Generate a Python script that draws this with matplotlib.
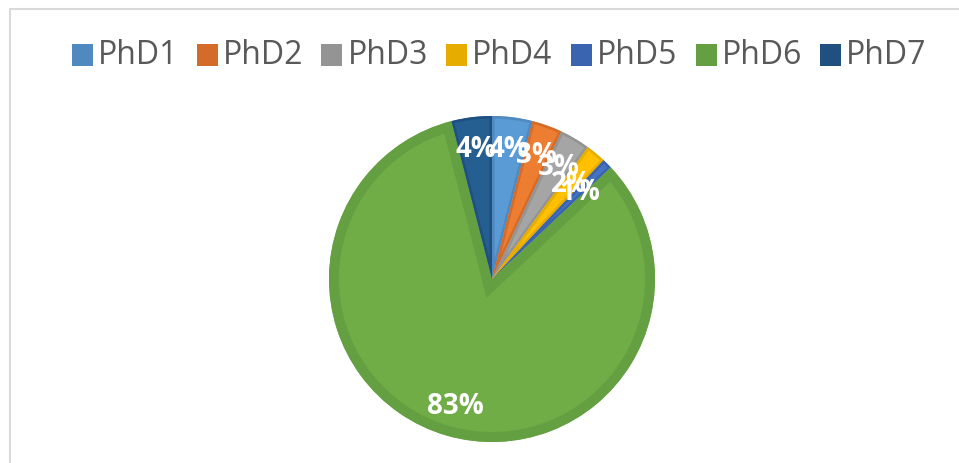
import matplotlib
matplotlib.use('Agg')
import numpy as np
import matplotlib.pyplot as plt
from matplotlib.patches import Wedge, Rectangle

names = ['PhD1', 'PhD2', 'PhD3', 'PhD4', 'PhD5', 'PhD6', 'PhD7']
shares = [4, 3, 3, 2, 1, 83, 4]
colors = ['#5b9bd5', '#ed7d31', '#a5a5a5', '#ffc000', '#4472c4', '#70ad47', '#255e91']
edge_colors = ['#4f89c0', '#d56b28', '#949494', '#e6ac00', '#3a64b0', '#64a042', '#1f5080']
label_dist = [0.81, 0.81, 0.80, 0.76, 0.76, 0.81, 0.81]

W, H = 959, 464
fig = plt.figure(figsize=(W / 100, H / 100), dpi=100)
ax = fig.add_axes([0, 0, 1, 1])
ax.axis('off')

cx, cy, r = 492, H - 280, 163
wedges, texts, autotexts = ax.pie(
    shares, colors=colors, startangle=90, counterclock=False,
    center=(cx, cy), radius=r, autopct='%.0f%%', pctdistance=0.81,
    textprops=dict(color='white', fontsize=20, fontweight='bold', family='Open Sans'))
ax.set_xlim(0, W)
ax.set_ylim(0, H)
ax.set_aspect('equal')

# darker inner band along each slice outline (stroke clipped to the slice)
for w, ec in zip(wedges, edge_colors):
    band = 10 if w.theta2 - w.theta1 > 180 else 2.5
    rim = Wedge(w.center, w.r, w.theta1, w.theta2, facecolor='none',
                edgecolor=ec, linewidth=band * 2 * 0.72, joinstyle='miter', zorder=w.get_zorder() + 0.1)
    ax.add_patch(rim)
    rim.set_clip_path(w)

# crowded little slices get their labels pulled in a bit
for w, t, d in zip(wedges, autotexts, label_dist):
    mid = np.deg2rad((w.theta1 + w.theta2) / 2)
    t.set_position((cx + d * r * np.cos(mid), cy + d * r * np.sin(mid)))
    t.set_zorder(5)

# legend row across the top
for i, (name, c) in enumerate(zip(names, edge_colors)):
    x0 = 72 + i * 124.7
    ax.add_patch(Rectangle((x0, H - 67), 21, 22, facecolor=c, edgecolor='none'))
    ax.text(x0 + 26, H - 56, name, fontsize=23, color='#595959', family='Open Sans',
            ha='left', va='center')

# chart area border
ax.plot([9, W], [H - 9.5, H - 9.5], color='#d9d9d9', lw=1.5, solid_capstyle='butt')
ax.plot([9.5, 9.5], [0, H - 9], color='#d9d9d9', lw=1.5, solid_capstyle='butt')

fig.savefig('out.png', dpi=100)
